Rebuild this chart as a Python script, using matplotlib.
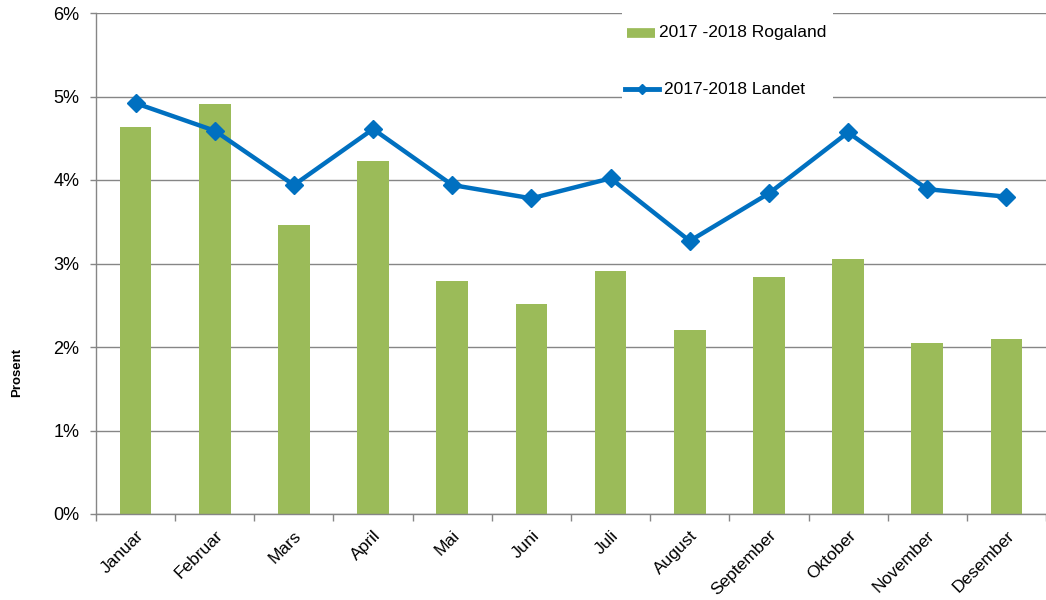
import matplotlib
matplotlib.use("Agg")
import matplotlib.pyplot as plt
import numpy as np
from matplotlib.patches import Rectangle
from matplotlib.lines import Line2D
from matplotlib.ticker import FuncFormatter, FixedLocator

plt.rcParams['font.family'] = ['Liberation Sans', 'DejaVu Sans']

months = ["Januar", "Februar", "Mars", "April", "Mai", "Juni", "Juli",
          "August", "September", "Oktober", "November", "Desember"]
rogaland = [4.63, 4.91, 3.46, 4.23, 2.79, 2.51, 2.91, 2.20, 2.84, 3.05, 2.05, 2.10]
landet = [4.92, 4.59, 3.94, 4.61, 3.94, 3.78, 4.02, 3.27, 3.84, 4.57, 3.89, 3.80]
label_rogaland = "2017 -2018 Rogaland"
label_landet = "2017-2018 Landet"

green = "#9BBB59"
blue = "#0070C0"
grey = "#868686"

fig = plt.figure(figsize=(10.46, 6), dpi=100)
ax = fig.add_axes([96/1046, 1-514/600, 1-96/1046, (514-13)/600])

x = np.arange(len(months))
ax.bar(x, rogaland, width=0.40, color=green, zorder=2)
ax.plot(x, landet, color=blue, lw=3.2, marker="D", markersize=9,
        markerfacecolor=blue, markeredgecolor=blue, zorder=3)

ax.set_xlim(-0.5, len(months)-0.5)
ax.set_ylim(0, 6)
ax.set_yticks(np.arange(0, 7, 1))
ax.yaxis.set_major_formatter(FuncFormatter(lambda v, p: f"{int(v)}%"))
ax.grid(axis="y", color=grey, lw=1, zorder=0)
ax.set_axisbelow(True)

ax.set_xticks(x)
ax.set_xticklabels(months, rotation=45, ha="right", rotation_mode="anchor", fontsize=12.5)
ax.tick_params(axis="x", which="major", length=0, pad=10)
ax.xaxis.set_minor_locator(FixedLocator(np.arange(-0.5, len(months), 1)))
ax.tick_params(axis="x", which="minor", length=5, color=grey, width=1)
ax.tick_params(axis="y", length=4, color=grey, width=1, labelsize=13, pad=8)

for s in ["top", "right"]:
    ax.spines[s].set_visible(False)
for s in ["left", "bottom"]:
    ax.spines[s].set_color(grey)
    ax.spines[s].set_linewidth(1)

fig.text(17/1046, 1-372/600, "Prosent", fontsize=9.5, fontweight="bold",
         rotation=90, ha="center", va="center")

# white legend box covering gridlines
fig.patches.append(Rectangle((622/1046, 1-100/600), 211/1046, 100/600,
                             transform=fig.transFigure, facecolor="white",
                             edgecolor="none", zorder=5))
fig.add_artist(Line2D([627/1046, 655/1046], [1-33/600, 1-33/600], color=green, lw=7,
                      transform=fig.transFigure, zorder=6, solid_capstyle="butt"))
fig.text(659/1046, 1-33/600, label_rogaland, fontsize=12.5, va="center", ha="left", zorder=6)
fig.add_artist(Line2D([625/1046, 659/1046], [1-89/600, 1-89/600], color=blue, lw=3.5,
                      transform=fig.transFigure, zorder=6))
fig.add_artist(Line2D([642/1046], [1-89/600], color=blue, marker="D", markersize=5,
                      transform=fig.transFigure, zorder=6))
fig.text(664/1046, 1-89/600, label_landet, fontsize=12.5, va="center", ha="left", zorder=6)

fig.savefig("out.png", dpi=100)
